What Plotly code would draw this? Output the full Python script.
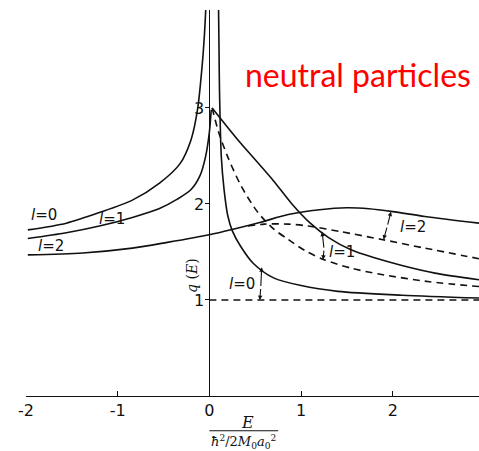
import plotly.graph_objects as go

# ---- data ----
# l = 0, solid, E < 0 branch
l0_neg_E = [-1.98, -1.56, -1.2, -0.84, -0.54, -0.32, -0.2, -0.13, -0.08, -0.055, -0.04]
l0_neg_q = [1.73, 1.80, 1.91, 2.04, 2.22, 2.42, 2.67, 2.98, 3.43, 3.75, 4.02]
# l = 0, solid, E > 0 branch
l0_pos_E = [0.10, 0.105, 0.11, 0.13, 0.16, 0.20, 0.25, 0.34, 0.48, 0.7, 1.0, 1.4, 2.1, 2.94]
l0_pos_q = [4.02, 3.6, 3.19, 2.49, 2.15, 1.88, 1.72, 1.56, 1.38, 1.23, 1.15, 1.09, 1.05, 1.02]
# l = 0, dashed
l0_dash_E = [0.0, 2.94]
l0_dash_q = [1.0, 1.0]

# l = 1, solid
l1_neg_E = [-1.98, -1.56, -1.2, -0.84, -0.55, -0.35, -0.2, -0.1, -0.04, 0.0, 0.02]
l1_neg_q = [1.64, 1.70, 1.77, 1.86, 1.95, 2.05, 2.15, 2.30, 2.50, 2.75, 2.98]
l1_pos_E = [0.03, 0.3, 0.5, 0.7, 0.9, 1.1, 1.3, 1.55, 1.8, 2.1, 2.46, 2.94]
l1_pos_q = [3.0, 2.68, 2.46, 2.24, 2.0, 1.80, 1.65, 1.52, 1.44, 1.36, 1.28, 1.21]
# l = 1, dashed
l1_dash_E = [0.03, 0.1, 0.2, 0.35, 0.53, 0.7, 0.86, 1.05, 1.25, 1.55, 1.85, 2.4, 2.94]
l1_dash_q = [3.0, 2.75, 2.49, 2.18, 1.91, 1.74, 1.63, 1.51, 1.42, 1.33, 1.27, 1.19, 1.14]

# l = 2, solid
l2_E = [-1.98, -1.38, -0.84, -0.46, 0.0, 0.27, 0.56, 0.86, 1.2, 1.5, 1.74, 2.0, 2.35, 2.94]
l2_q = [1.47, 1.49, 1.54, 1.60, 1.68, 1.74, 1.81, 1.89, 1.94, 1.96, 1.95, 1.92, 1.87, 1.80]
# l = 2, dashed
l2_dash_E = [0.42, 0.6, 0.86, 1.08, 1.44, 1.88, 2.35, 2.94]
l2_dash_q = [1.77, 1.79, 1.79, 1.77, 1.71, 1.63, 1.54, 1.43]

x_tickvals = [-2, -1, 0, 1, 2]
x_ticktext = ["-2", "-1", "0", "1", "2"]
y_tickvals = [1, 2, 3]
y_ticktext = ["1", "2", "3"]

X_RANGE = [-2.0, 2.94]
Y_RANGE = [0.0, 4.02]

INK = "#111111"
LW = 1.6
DASH = "7px,5px"

fig = go.Figure()

def add(E, q, dash=None):
    fig.add_trace(go.Scatter(
        x=E, y=q, mode="lines",
        line=dict(color=INK, width=LW, dash=dash, shape="spline", smoothing=0.8),
        hoverinfo="skip", showlegend=False))

add(l0_neg_E, l0_neg_q)
add(l0_pos_E, l0_pos_q)
add(l0_dash_E, l0_dash_q, DASH)
add(l1_neg_E, l1_neg_q)
add(l1_pos_E, l1_pos_q)
add(l1_dash_E, l1_dash_q, DASH)
add(l2_E, l2_q)
add(l2_dash_E, l2_dash_q, DASH)

lab_font = dict(family="DejaVu Sans", size=15, color=INK)

def label(x, y, txt):
    fig.add_annotation(x=x, y=y, xref="x", yref="y", text=txt, showarrow=False,
                       xanchor="center", yanchor="middle", font=lab_font)

# left-side labels
label(-1.80, 1.885, "<i>l</i>=0")
label(-1.06, 1.84, "<i>l</i>=1")
label(-1.73, 1.56, "<i>l</i>=2")
# right-side labels
label(2.22, 1.76, "<i>l</i>=2")
label(1.45, 1.50, "<i>l</i>=1")
label(0.36, 1.17, "<i>l</i>=0")

# bracket arrows between solid and dashed curves
def bracket(xm, ym, x_top, y_top, x_bot, y_bot):
    for (xt, yt) in ((x_top, y_top), (x_bot, y_bot)):
        fig.add_annotation(x=xt, y=yt, ax=xm, ay=ym, xref="x", yref="y",
                           axref="x", ayref="y", text="", showarrow=True,
                           arrowhead=2, arrowsize=0.8, arrowwidth=1.1,
                           arrowcolor=INK)

bracket(1.94, 1.77, 1.98, 1.92, 1.90, 1.63)
bracket(1.25, 1.53, 1.23, 1.71, 1.24, 1.42)
bracket(0.56, 1.13, 0.57, 1.34, 0.55, 1.0)

# y-axis title
fig.add_annotation(x=-0.19, y=1.26, xref="x", yref="y", text="<i>q</i> (<i>E</i>)",
                   textangle=-90, showarrow=False, xanchor="center", yanchor="middle",
                   font=dict(family="DejaVu Serif", size=14, color=INK))

# x-axis title as a fraction
fig.add_annotation(x=0.42, y=-0.068, xref="x", yref="paper", text="<i>E</i>",
                   showarrow=False, xanchor="center", yanchor="middle",
                   font=dict(family="DejaVu Serif", size=16, color=INK))
fig.add_shape(type="line", xref="x", yref="paper", x0=0.0, x1=0.75,
              y0=-0.09, y1=-0.09, line=dict(color=INK, width=1.2))
fig.add_annotation(x=0.37, y=-0.118, xref="x", yref="paper",
                   text="<i>ħ</i><sup>2</sup>/2<i>M</i><sub>0</sub><i>a</i><sub>0</sub><sup>2</sup>",
                   showarrow=False, xanchor="center", yanchor="middle",
                   font=dict(family="DejaVu Serif", size=13, color=INK))

# title text
fig.add_annotation(x=0.733, y=0.832, xref="paper", yref="paper", text="neutral particles",
                   showarrow=False, xanchor="center", yanchor="middle",
                   font=dict(family="Lato", size=32, color="#ff0000"))

ypos = (0 - X_RANGE[0]) / (X_RANGE[1] - X_RANGE[0])

fig.update_layout(
    width=479, height=451,
    margin=dict(l=26, r=0, t=10, b=55),
    paper_bgcolor="white", plot_bgcolor="white",
    xaxis=dict(range=X_RANGE, showgrid=False, zeroline=False, showline=True,
               automargin=False,
               linecolor=INK, linewidth=1.2, ticks="inside", ticklen=5,
               tickcolor=INK, tickvals=x_tickvals, ticktext=x_ticktext,
               tickfont=dict(family="DejaVu Sans", size=16, color=INK)),
    yaxis=dict(range=Y_RANGE, showgrid=False, zeroline=False, showline=True,
               automargin=False,
               linecolor=INK, linewidth=1.2, ticks="outside", ticklen=4,
               tickcolor=INK, tickvals=y_tickvals, ticktext=y_ticktext,
               anchor="free", position=ypos, ticklabelstandoff=-2,
               tickfont=dict(family="DejaVu Sans", size=16, color=INK)),
)

fig.write_html("out.html", config={"displayModeBar": False},
               post_script="document.body.style.margin='0';document.body.style.overflow='hidden';")
